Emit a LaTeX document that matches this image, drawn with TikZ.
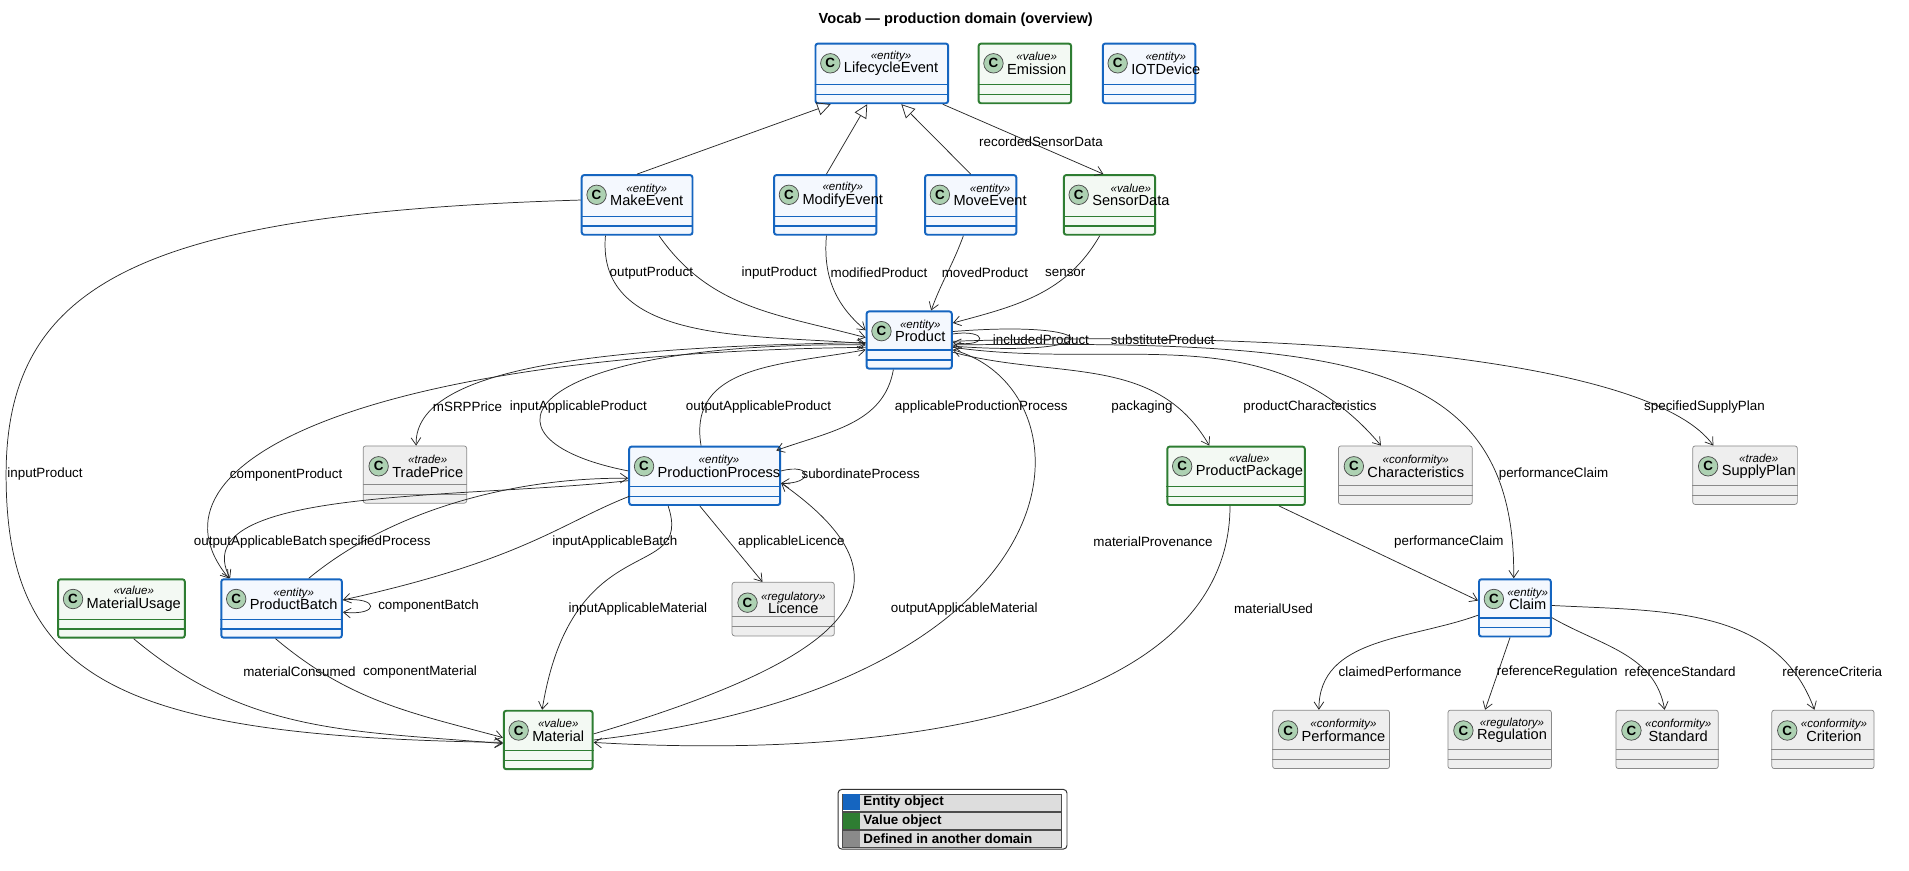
\documentclass[tikz,border=0pt]{standalone}
\usepackage{fontspec}
\setmainfont{Liberation Sans}
\usetikzlibrary{arrows.meta,positioning}
\definecolor{entline}{HTML}{1565C0}
\definecolor{entfill}{HTML}{F4F8FE}
\definecolor{valline}{HTML}{2E7D32}
\definecolor{valfill}{HTML}{F3F9F3}
\definecolor{extline}{HTML}{8A8A8A}
\definecolor{extfill}{HTML}{EEEEEE}
\definecolor{circfill}{HTML}{ADD1B2}
\definecolor{legfill}{HTML}{DDDDDD}
\tikzset{
  entity/.style={draw=entline, fill=entfill, line width=1.6pt, rounded corners=2pt, inner sep=0pt},
  value/.style={draw=valline, fill=valfill, line width=1.6pt, rounded corners=2pt, inner sep=0pt},
  extern/.style={draw=extline, fill=extfill, line width=0.6pt, rounded corners=2pt, inner sep=0pt},
  entity line/.style={draw=entline, line width=1.1pt},
  value line/.style={draw=valline, line width=1.1pt},
  extern line/.style={draw=extline, line width=0.5pt},
  ccircle/.style={circle, draw=black!70, fill=circfill, line width=0.6pt, minimum size=16pt, inner sep=0pt, font=\fontsize{11}{11}\selectfont\bfseries},
  arr/.style={-{Straight Barb[length=6pt,width=8pt]}, line width=0.6pt, black!85},
  inh/.style={-{Triangle[open,length=11pt,width=11pt]}, line width=0.6pt, black!85},
  lbl/.style={font=\fontsize{11}{12}\selectfont, inner sep=1pt}
}
% class box: id, left, top, width, height, kind, stereotype, name
\newcommand\umlclass[8]{%
  \node[#6, minimum width=#4pt, minimum height=#5pt, anchor=north west] (#1) at (#2,-#3) {};
  \draw[#6 line] ([yshift=16pt]#1.south west) -- ([yshift=16pt]#1.south east);
  \draw[#6 line] ([yshift=8pt]#1.south west) -- ([yshift=8pt]#1.south east);
  \node[ccircle] at ([xshift=13pt,yshift=-17pt]#1.north west) {C};
  \node[align=center, inner sep=0pt, anchor=west] at ([xshift=24pt,yshift=-17pt]#1.north west)
    {{\fontsize{9.5}{9.5}\selectfont\itshape «#7»}\\[-1pt]{\fontsize{12}{13}\selectfont #8}};
}
\begin{document}
\begin{tikzpicture}[x=1pt,y=1pt]
\useasboundingbox[fill=white] (0,0) rectangle (1568,-715);
\node[font=\fontsize{12}{13}\selectfont\bfseries] (title) at (785,-16) {Vocab — production domain (overview)};

% ===== classes =====
\umlclass{lce}{669}{35}{109}{49}{entity}{entity}{LifecycleEvent}
\umlclass{ems}{803}{35}{76}{49}{value}{value}{Emission}
\umlclass{iot}{905}{35}{76}{49}{entity}{entity}{IOTDevice}
\umlclass{mak}{477}{143}{91}{49}{entity}{entity}{MakeEvent}
\umlclass{mod}{635}{143}{84}{49}{entity}{entity}{ModifyEvent}
\umlclass{mov}{759}{143}{75}{49}{entity}{entity}{MoveEvent}
\umlclass{sen}{873}{143}{75}{49}{value}{value}{SensorData}
\umlclass{prd}{711}{255}{70}{47}{entity}{entity}{Product}
\umlclass{tpr}{298}{366}{85}{47}{extern}{trade}{TradePrice}
\umlclass{ppr}{516}{366}{124}{48}{entity}{entity}{ProductionProcess}
\umlclass{ppk}{958}{366}{113}{48}{value}{value}{ProductPackage}
\umlclass{chr}{1099}{366}{110}{48}{extern}{conformity}{Characteristics}
\umlclass{spl}{1390}{366}{86}{48}{extern}{trade}{SupplyPlan}
\umlclass{lic}{601}{478}{84}{44}{extern}{regulatory}{Licence}
\umlclass{mtu}{47}{475}{104}{48}{value}{value}{MaterialUsage}
\umlclass{pbt}{181}{475}{99}{48}{entity}{entity}{ProductBatch}
\umlclass{clm}{1214}{475}{59}{47}{entity}{entity}{Claim}
\umlclass{mat}{413}{583}{73}{48}{value}{value}{Material}
\umlclass{prf}{1045}{583}{96}{48}{extern}{conformity}{Performance}
\umlclass{reg}{1189}{583}{85}{48}{extern}{regulatory}{Regulation}
\umlclass{std}{1327}{583}{84}{48}{extern}{conformity}{Standard}
\umlclass{cri}{1455}{583}{84}{48}{extern}{conformity}{Criterion}

% ===== inheritance =====
\draw[inh] (mak.north) -- ([xshift=-42pt]lce.south);
\draw[inh] ([xshift=1pt]mod.north) -- ([xshift=-12pt]lce.south);
\draw[inh] (mov.north) -- ([xshift=16pt]lce.south);

% ===== associations =====
\draw[arr] ([xshift=50pt]lce.south) -- ([xshift=-5pt]sen.north);
\node[lbl] at (855,-116) {recordedSensorData};

\draw[arr] ([xshift=-26pt]mak.south) to[out=-95,in=175] ([yshift=-3pt]prd.west);
\node[lbl] at (535,-224) {outputProduct};
\draw[arr] ([xshift=18pt]mak.south) to[out=-55,in=165] ([yshift=2pt]prd.west);
\node[lbl] at (640,-224) {inputProduct};
\draw[arr] ([xshift=1pt]mod.south) to[out=-95,in=140] ([yshift=8pt]prd.west);
\node[lbl] at (722,-224) {modifiedProduct};
\draw[arr] ([xshift=-6pt]mov.south) to[out=-110,in=70] ([xshift=18pt]prd.north);
\node[lbl] at (809,-224) {movedProduct};
\draw[arr] ([xshift=-8pt]sen.south) to[out=-120,in=15] ([yshift=14pt]prd.east);
\node[lbl] at (875,-224) {sensor};

\draw[arr] ([yshift=4pt]mak.west) .. controls (120,-175) and (5,-230) .. (5,-390)
  .. controls (5,-560) and (100,-605) .. ([yshift=-2pt]mat.west);
\node[lbl] at (37,-389) {inputProduct};

\draw[arr] ([yshift=5pt]prd.east) .. controls (812,-270) and (812,-286) .. ([yshift=-2pt]prd.east);
\node[lbl] at (855,-279) {includedProduct};
\draw[arr] ([yshift=7pt]prd.east) .. controls (912,-262) and (912,-294) .. ([yshift=-5pt]prd.east);
\node[lbl] at (955,-279) {substituteProduct};

\draw[arr] ([yshift=-2pt]prd.west) .. controls (500,-285) and (340,-300) .. ([xshift=1pt]tpr.north);
\node[lbl] at (384,-334) {mSRPPrice};
\draw[arr] ([yshift=4pt]ppr.west) .. controls (380,-360) and (430,-280) .. ([yshift=-4pt]prd.west);
\node[lbl] at (475,-334) {inputApplicableProduct};
\draw[arr] ([xshift=-3pt]ppr.north) .. controls (565,-300) and (640,-300) .. ([yshift=-8pt]prd.west);
\node[lbl] at (623,-334) {outputApplicableProduct};
\draw[arr] ([xshift=-13pt]prd.south) to[out=-100,in=20] ([xshift=-4pt,yshift=-4pt]ppr.north east);
\node[lbl] at (806,-334) {applicableProductionProcess};
\draw[arr] ([yshift=-10pt]prd.east) to[out=-15,in=120] ([xshift=-22pt]ppk.north);
\node[lbl] at (938,-334) {packaging};
\draw[arr] ([yshift=-6pt]prd.east) to[out=-8,in=130] ([xshift=-20pt]chr.north);
\node[lbl] at (1076,-334) {productCharacteristics};
\draw[arr] ([yshift=-4pt]prd.east) .. controls (1100,-280) and (1245,-290) .. ([xshift=-1pt]clm.north);
\node[lbl] at (1276,-389) {performanceClaim};
\draw[arr] ([yshift=-1pt]prd.east) .. controls (1100,-270) and (1360,-300) .. ([xshift=-26pt]spl.north);
\node[lbl] at (1400,-334) {specifiedSupplyPlan};

\draw[arr] ([yshift=-6pt]prd.west) .. controls (300,-290) and (110,-380) .. ([xshift=7pt]pbt.north west);
\node[lbl] at (235,-390) {componentProduct};
\draw[arr] ([yshift=4pt]ppr.east) .. controls (668,-380) and (668,-398) .. ([yshift=-6pt]ppr.east);
\node[lbl] at (707,-389) {subordinateProcess};
\draw[arr] ([yshift=-4pt]ppr.west) .. controls (380,-410) and (150,-400) .. ([xshift=8pt]pbt.north west);
\node[lbl] at (214,-445) {outputApplicableBatch};
\draw[arr] ([xshift=-28pt]pbt.north east) .. controls (320,-420) and (420,-392) .. ([yshift=-2pt]ppr.west);
\node[lbl] at (312,-445) {specifiedProcess};
\draw[arr] ([xshift=1pt,yshift=8pt]ppr.south west) .. controls (460,-430) and (430,-460) .. ([yshift=7pt]pbt.east);
\node[lbl] at (505,-445) {inputApplicableBatch};
\draw[arr] ([xshift=-4pt]ppr.south) -- ([xshift=-17pt]lic.north);
\node[lbl] at (650,-445) {applicableLicence};
\draw[arr] ([yshift=7pt]pbt.east) .. controls (312,-490) and (312,-506) .. ([yshift=-3pt]pbt.east);
\node[lbl] at (352,-498) {componentBatch};

\draw[arr] ([xshift=-30pt]ppr.south) .. controls (570,-480) and (470,-430) .. ([xshift=-5pt]mat.north);
\node[lbl] at (524,-500) {inputApplicableMaterial};
\draw[arr] ([yshift=5pt]mat.east) .. controls (700,-540) and (760,-480) .. ([yshift=-6pt]ppr.east);
\node[lbl] at (792,-500) {outputApplicableMaterial};
\draw[arr] ([yshift=0pt]mat.east) .. controls (900,-560) and (900,-320) .. ([yshift=-8pt]prd.east);
\node[lbl] at (947,-445) {materialProvenance};
\draw[arr] ([xshift=-5pt]ppk.south) .. controls (1010,-580) and (750,-625) .. ([yshift=-2pt]mat.east);
\node[lbl] at (1046,-500) {materialUsed};
\draw[arr] ([xshift=-22pt]ppk.south east) -- ([yshift=6pt]clm.west);
\node[lbl] at (1190,-445) {performanceClaim};

\draw[arr] ([xshift=10pt]mtu.south) to[out=-40,in=175] ([yshift=-3pt]mat.west);
\node[lbl] at (246,-552) {materialConsumed};
\draw[arr] ([xshift=-5pt]pbt.south) to[out=-40,in=165] ([yshift=2pt]mat.west);
\node[lbl] at (345,-552) {componentMaterial};

\draw[arr] ([yshift=-6pt]clm.west) to[out=200,in=90] ([xshift=-10pt]prf.north);
\node[lbl] at (1150,-552) {claimedPerformance};
\draw[arr] ([xshift=-4pt]clm.south) -- ([xshift=-12pt]reg.north);
\node[lbl] at (1279,-552) {referenceRegulation};
\draw[arr] ([yshift=-8pt]clm.east) to[out=-30,in=100] ([xshift=-2pt]std.north);
\node[lbl] at (1380,-552) {referenceStandard};
\draw[arr] ([yshift=2pt]clm.east) to[out=-3,in=110] ([xshift=-7pt]cri.north);
\node[lbl] at (1505,-552) {referenceCriteria};

% ===== legend =====
\node[draw=black!80, line width=0.8pt, rounded corners=3pt, fill=white, minimum width=188pt, minimum height=49pt, anchor=north west] (legend) at (688,-648) {};
\foreach \row/\col/\txt in {0/entline/Entity object, 1/valline/Value object, 2/extline/Defined in another domain}{
  \fill[legfill] (706,-652-\row*15) rectangle (872,-666-\row*15);
  \draw[black!70, line width=0.4pt] (692,-652-\row*15) rectangle (872,-666-\row*15);
  \fill[\col] (692.5,-652.5-\row*15) rectangle (706,-665.5-\row*15);
  \node[anchor=west, inner sep=0pt, font=\fontsize{11}{11}\selectfont\bfseries] at (709,-659-\row*15) {\txt};
}
\end{tikzpicture}
\end{document}
